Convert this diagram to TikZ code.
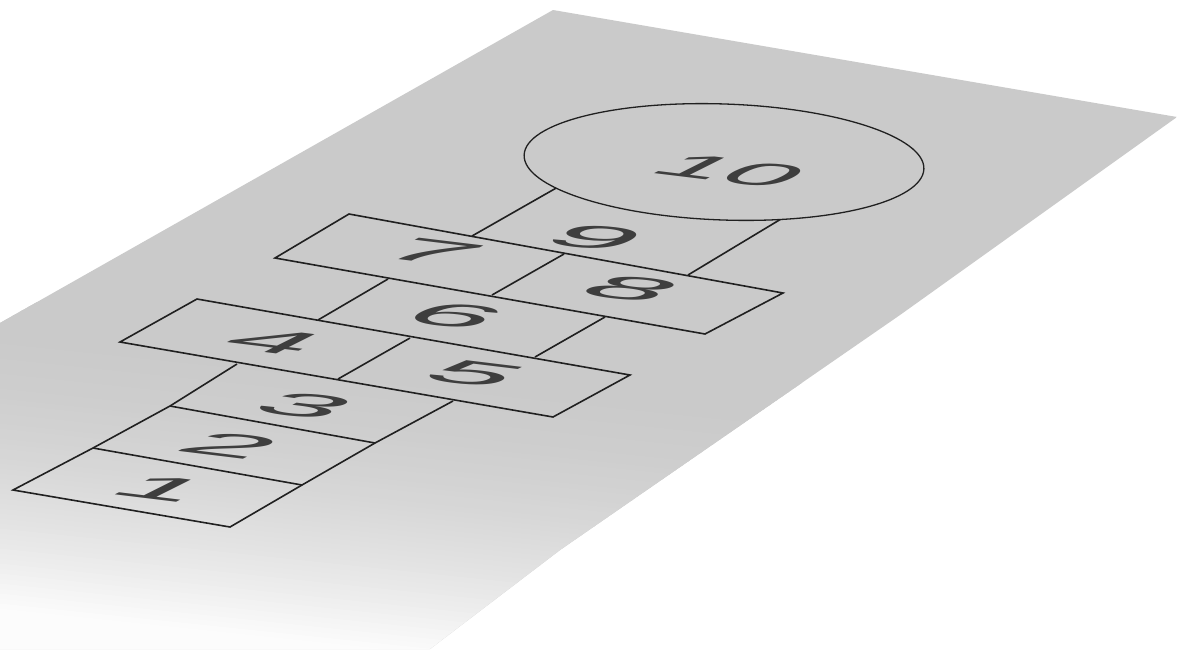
\documentclass[tikz,border=0pt]{standalone}
\usepackage{fontspec}
\setmainfont{Liberation Sans}
\definecolor{plane}{RGB}{202,202,202}
\definecolor{planelow}{RGB}{252,252,252}
\definecolor{ink}{RGB}{32,32,32}
\definecolor{digitc}{RGB}{62,62,62}
\newcommand\hopdigit[4][]{\begin{scope}[shift={(#2)}]\node[digit,#1] (#3) at (0,0) {#4};\end{scope}}
\begin{document}
\begin{tikzpicture}[x=1pt,y=-1pt,
  hopline/.style={draw=ink, line width=1.6pt, line join=miter},
  digit/.style={inner sep=0pt, text=digitc, font=\fontsize{10}{12}\selectfont,
    cm={14.2,-1.72,5.6,2.8,(0,0)}},
  narrow/.style={cm={0.84,0,0,1,(0,0)}}]
\useasboundingbox (0,0) rectangle (1177,649);
\fill[white] (0,0) rectangle (1177,649);
% the ground plane, fading towards the lower left
\begin{scope}
  \clip (553,10) -- (1177,117) -- (900,315) -- (560,550) -- (430,649) -- (0,649) -- (0,323) -- cycle;
  \fill[plane] (-10,-10) rectangle (1190,660);
  \foreach \i in {0,...,61}{
    \pgfmathsetmacro\ya{330+5*\i}
    \pgfmathsetmacro\yb{\ya+6}
    \pgfmathtruncatemacro\g{202+50*((\i+0.5)/62)^2}
    \definecolor{band}{RGB}{\g,\g,\g}
    \fill[band] (-10,\ya-32.6) -- (1190,\ya+93.5) -- (1190,\yb+93.5) -- (-10,\yb-32.6) -- cycle;
  }
  \fill[planelow] (-10,640-32.6) -- (1190,640+93.5) -- (1190,1100) -- (-10,1100) -- cycle;
\end{scope}
% corners
\coordinate (L0) at (13,490);  \coordinate (L1) at (93,448);
\coordinate (L2) at (170,406); \coordinate (L3) at (237,364);
\coordinate (R0) at (230,527); \coordinate (R1) at (302,485);
\coordinate (R2) at (375,443); \coordinate (R3) at (453,401);
\coordinate (A) at (120,342);  \coordinate (B) at (553,417);
\coordinate (C) at (630,375);  \coordinate (D) at (197,299);
\coordinate (M45b) at (338,379); \coordinate (M45t) at (410,338);
\coordinate (S6lb) at (318,320); \coordinate (S6lt) at (388,279);
\coordinate (S6rb) at (535,357); \coordinate (S6rt) at (605,317);
\coordinate (E) at (275,258);  \coordinate (F) at (705,334);
\coordinate (G) at (783,293);  \coordinate (H) at (349,214);
\coordinate (M78b) at (492,295); \coordinate (M78t) at (564,254);
\coordinate (S9lb) at (472,236); \coordinate (S9lt) at (558,187);
\coordinate (S9rb) at (688,275); \coordinate (S9rt) at (781,219);
\coordinate (O) at (724,162);
% boxes 1-3
\draw[hopline] (L3) -- (L2) -- (L1) -- (L0) -- (R0) -- (R1) -- (R2) -- (R3);
\draw[hopline] (L1) -- (R1);
\draw[hopline] (L2) -- (R2);
% boxes 4-5
\draw[hopline] (A) -- (B) -- (C) -- (D) -- cycle;
\draw[hopline] (M45b) -- (M45t);
% box 6
\draw[hopline] (S6lb) -- (S6lt);
\draw[hopline] (S6rb) -- (S6rt);
% boxes 7-8
\draw[hopline] (E) -- (F) -- (G) -- (H) -- cycle;
\draw[hopline] (M78b) -- (M78t);
% box 9
\draw[hopline] (S9lb) -- (S9lt);
\draw[hopline] (S9rb) -- (S9rt);
% 10
\draw[hopline, line width=1.3pt, fill=plane, rotate around={-2:(O)}] (O) ellipse [x radius=200, y radius=58];
% digits
\hopdigit{163,489}{d1}{1}
\hopdigit{231,445}{d2}{2}
\hopdigit{305,406}{d3}{3}
\hopdigit{274,342}{d4}{4}
\hopdigit{475,374}{d5}{5}
\hopdigit{455,316}{d6}{6}
\hopdigit{432,252}{d7}{7}
\hopdigit{631,289}{d8}{8}
\hopdigit{596,238}{d9}{9}
\hopdigit[narrow]{731,171}{d10}{10}
\end{tikzpicture}
\end{document}
